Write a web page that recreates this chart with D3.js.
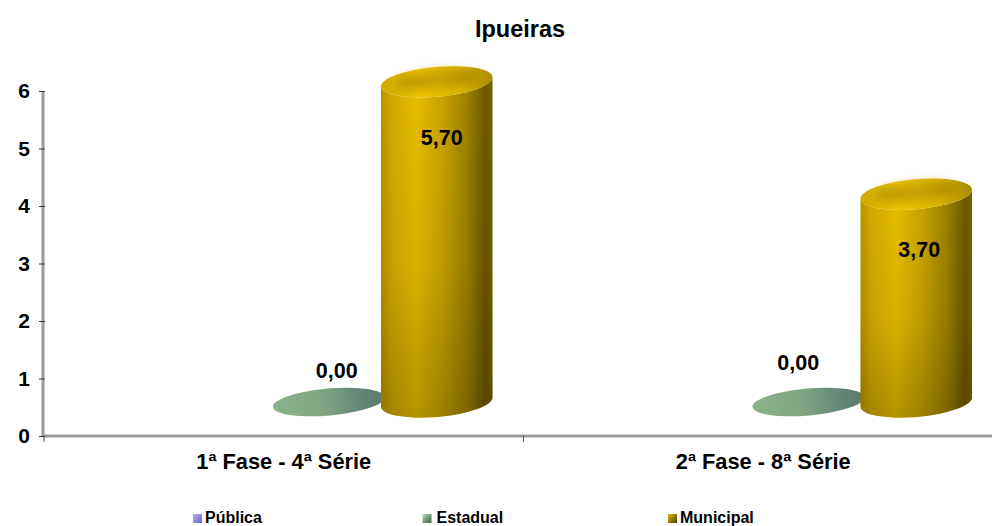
<!DOCTYPE html>
<html>
<head>
<meta charset="utf-8">
<script src="https://cdnjs.cloudflare.com/ajax/libs/d3/7.8.5/d3.min.js"></script>
<style>
  html, body { margin: 0; padding: 0; background: #fff; }
  text { font-family: "Liberation Sans", Arial, sans-serif; font-weight: bold; fill: #000; }
</style>
</head>
<body>
<svg id="chart" width="992" height="526"></svg>
<script>
const categories = ["1ª Fase - 4ª Série", "2ª Fase - 8ª Série"];
const series = ["Pública", "Estadual", "Municipal"];
const estadual = [0, 0];
const municipal = [5.7, 3.7];
const yTicks = [0, 1, 2, 3, 4, 5, 6];

const svg = d3.select("#chart");

// plot frame
const y = d3.scaleLinear().domain([0, 6]).range([436, 91]);
const x0 = d3.scaleBand().domain(categories).range([44, 1003]);
const x1 = d3.scalePoint().domain(series).range([-63, 153]);

// the cylinders stand on a floor that sits higher than the axis line
const floorY = 402;
const yBar = d3.scaleLinear().domain([0, 6]).range([floorY, floorY - 337]);

const rx = 56, ry = 15, tilt = -5;
const dx = rx * Math.cos(tilt * Math.PI / 180), dy = rx * Math.sin(tilt * Math.PI / 180);

const defs = svg.append("defs");
function gradient(id, stops, x2, y2) {
  const g = defs.append("linearGradient").attr("id", id)
    .attr("x1", 0).attr("y1", 0).attr("x2", x2).attr("y2", y2);
  stops.forEach(s => g.append("stop").attr("offset", s[0]).attr("stop-color", s[1]).attr("stop-opacity", s[2] === undefined ? 1 : s[2]));
}
gradient("gold", [[0, "#b89300"], [0.1, "#d2ab00"], [0.32, "#e6bd00"], [0.55, "#c8a400"], [0.78, "#9c8000"], [0.94, "#6b5700"], [1, "#7a6400"]], 1, 0);
gradient("shade", [[0, "#000", 0], [0.55, "#000", 0.06], [1, "#000", 0.22]], 0, 1);
gradient("green", [[0, "#8ab38a"], [0.45, "#7fa583"], [0.8, "#628577"], [1, "#5a7a70"]], 1, 0);
gradient("capRim", [[0, "#cfa900"], [0.35, "#ecc400"], [0.7, "#d9b300"], [1, "#a88a00"]], 1, 0);
gradient("capTop", [[0, "#b89500"], [0.5, "#c9a400"], [1, "#a98a00"]], 1, 0);
gradient("legPublica", [[0, "#b6b6ff"], [1, "#6666c8"]], 1, 1);
gradient("legEstadual", [[0, "#b5dcb5"], [1, "#3f5a45"]], 1, 1);
gradient("legMunicipal", [[0, "#e8bf00"], [1, "#4a3b00"]], 1, 1);

function bodyPath(cx, top, bottom) {
  return `M${cx - dx},${top - dy}L${cx - dx},${bottom - dy}`
    + `A${rx},${ry} ${tilt} 0 0 ${cx + dx},${bottom + dy}`
    + `L${cx + dx},${top + dy}A${rx},${ry} ${tilt} 0 1 ${cx - dx},${top - dy}Z`;
}

// axes
const axisG = svg.append("g");
axisG.append("line").attr("x1", x0.range()[0] - 1).attr("x2", 992).attr("y1", y(0)).attr("y2", y(0))
  .attr("stroke", "#9a9a9a").attr("stroke-width", 3);
axisG.append("line").attr("x1", x0.range()[0] - 1).attr("x2", x0.range()[0] - 1).attr("y1", y(6)).attr("y2", y(0))
  .attr("stroke", "#9a9a9a").attr("stroke-width", 3);

const yAxis = d3.axisLeft(y).tickValues(yTicks).tickSize(6).tickPadding(9).tickFormat(d3.format("d"));
const yG = svg.append("g").attr("transform", "translate(45,0)").call(yAxis);
yG.select(".domain").remove();
yG.selectAll("line").attr("stroke", "#333");
yG.selectAll("text").style("font-size", "21px");

const xTicks = [x0.range()[0], x0(categories[1])];
svg.selectAll("line.xtick").data(xTicks).join("line").attr("class", "xtick")
  .attr("x1", d => d).attr("x2", d => d).attr("y1", y(0)).attr("y2", y(0) + 6).attr("stroke", "#555");

svg.selectAll("text.cat").data(categories).join("text").attr("class", "cat")
  .attr("x", d => x0(d) + x0.bandwidth() / 2)
  .attr("y", 469)
  .attr("text-anchor", "middle")
  .style("font-size", "21.8px")
  .text(d => d);

// zero values lie flat as a disc
svg.selectAll("ellipse.flat").data(estadual).join("ellipse").attr("class", "flat")
  .attr("cx", 0).attr("cy", 0)
  .attr("rx", rx).attr("ry", 13.5)
  .attr("transform", (d, i) => `translate(${x0(categories[i]) + x0.bandwidth() / 2 + x1("Estadual")},${yBar(d)}) rotate(${tilt})`)
  .attr("fill", "url(#green)");

// cylinders
const bars = svg.selectAll("g.bar").data(municipal).join("g").attr("class", "bar");
const cxOf = i => x0(categories[i]) + x0.bandwidth() / 2 + x1("Municipal");
bars.append("path").attr("d", (d, i) => bodyPath(cxOf(i), yBar(d), yBar(0))).attr("fill", "url(#gold)");
bars.append("path").attr("d", (d, i) => bodyPath(cxOf(i), yBar(d), yBar(0))).attr("fill", "url(#shade)");
bars.append("ellipse").attr("cx", 0).attr("cy", 0).attr("rx", rx).attr("ry", ry)
  .attr("transform", (d, i) => `translate(${cxOf(i)},${yBar(d)}) rotate(${tilt})`)
  .attr("fill", "url(#capRim)");
bars.append("ellipse").attr("cx", 0).attr("cy", -2).attr("rx", rx - 14).attr("ry", ry - 6)
  .attr("transform", (d, i) => `translate(${cxOf(i)},${yBar(d)}) rotate(${tilt})`)
  .attr("fill", "url(#capTop)").style("filter", "blur(4px)");

// data labels
const fmt = v => v.toFixed(2).replace(".", ",");
svg.selectAll("text.val").data(municipal).join("text").attr("class", "val")
  .attr("x", (d, i) => cxOf(i) + 5 - 2 * i)
  .attr("y", d => yBar(d) + 63)
  .attr("text-anchor", "middle").style("font-size", "21.5px")
  .text(fmt);
svg.selectAll("text.zero").data(estadual).join("text").attr("class", "zero")
  .attr("x", (d, i) => x0(categories[i]) + x0.bandwidth() / 2 + x1("Estadual") + (i ? -10 : 8))
  .attr("y", (d, i) => yBar(d) + (i ? -32 : -24))
  .attr("text-anchor", "middle").style("font-size", "21.5px")
  .text(fmt);

// title
svg.append("text").attr("x", 520).attr("y", 37).attr("text-anchor", "middle").style("font-size", "23.5px").text("Ipueiras");

// legend
const legendX = d3.scalePoint().domain(series).range([193, 668]);
const legendFill = { "Pública": "url(#legPublica)", "Estadual": "url(#legEstadual)", "Municipal": "url(#legMunicipal)" };
const leg = svg.selectAll("g.leg").data(series).join("g").attr("class", "leg")
  .attr("transform", d => `translate(${legendX(d)},0)`);
leg.append("rect").attr("x", d => d === "Estadual" ? -8 : 0).attr("y", 514).attr("width", 9).attr("height", 9).attr("fill", d => legendFill[d]);
leg.append("text").attr("x", d => d === "Estadual" ? 6 : 12).attr("y", 522.5).style("font-size", "16px").text(d => d);
</script>
</body>
</html>
